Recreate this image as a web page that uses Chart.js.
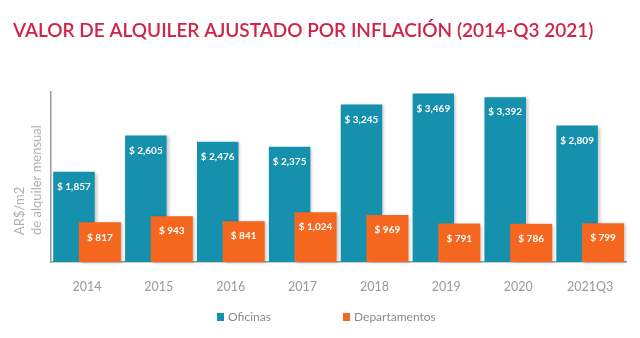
<!DOCTYPE html>
<html>
<head>
<meta charset="utf-8">
<script src="https://cdn.jsdelivr.net/npm/chart.js@4"></script>
<style>
  html, body { margin: 0; background: #fff; }
  #wrap { width: 640px; height: 338px; }
</style>
</head>
<body>
<div id="wrap"><canvas id="chart"></canvas></div>
<script>
const years = ['2014', '2015', '2016', '2017', '2018', '2019', '2020', '2021Q3']
const oficinas = [1857, 2605, 2476, 2375, 3245, 3469, 3392, 2809]
const departamentos = [817, 943, 841, 1024, 969, 791, 786, 799]

const TEAL = '#1590ad'
const ORANGE = '#f5671f'
const FONT = 'Lato'

function withShadow (ctx, fn) {
  ctx.save()
  ctx.shadowColor = 'rgba(0,0,0,0.22)'
  ctx.shadowBlur = 3
  ctx.shadowOffsetX = 2
  ctx.shadowOffsetY = 1
  fn()
  ctx.restore()
}

// bars overlap: orange sits in front of teal, so it is painted last by hand.
// title, axis caption, bar values and legend are painted here too
const extras = {
  id: 'extras',
  beforeDatasetDraw (chart, args) {
    if (args.index === 1) return false
    chart.ctx.save()
    chart.ctx.shadowColor = 'rgba(0,0,0,0.22)'
    chart.ctx.shadowBlur = 3
    chart.ctx.shadowOffsetX = 2
    chart.ctx.shadowOffsetY = 1
  },
  afterDatasetDraw (chart, args) {
    if (args.index === 1) return
    chart.ctx.restore()
  },
  afterDatasetsDraw (chart) {
    const ctx = chart.ctx
    withShadow(ctx, () => chart.getDatasetMeta(1).controller.draw())

    ctx.save()
    ctx.fillStyle = '#fff'
    ctx.font = 'bold 10px ' + FONT
    ctx.textAlign = 'center'
    ctx.textBaseline = 'middle'
    chart.data.datasets.forEach((ds, i) => {
      chart.getDatasetMeta(i).data.forEach((bar, j) => {
        ctx.fillText('$ ' + ds.data[j].toLocaleString('en-US'), bar.x, bar.y + 15)
      })
    })
    ctx.restore()
  },
  afterDraw (chart) {
    const ctx = chart.ctx
    ctx.save()
    // title
    ctx.fillStyle = '#d0234c'
    ctx.font = '600 19px ' + FONT
    ctx.textBaseline = 'middle'
    ctx.textAlign = 'left'
    ctx.fillText('VALOR DE ALQUILER AJUSTADO POR INFLACIÓN (2014-Q3 2021)', 13, 31)

    // y axis caption
    ctx.save()
    ctx.translate(0, 235)
    ctx.rotate(-Math.PI / 2)
    ctx.fillStyle = '#b0b0b0'
    ctx.font = '13px ' + FONT
    ctx.fillText('AR$/m2', 0, 20)
    ctx.fillText('de alquiler mensual', 0, 37)
    ctx.restore()

    // legend
    ctx.font = '12px ' + FONT
    const spots = [217, 343]
    chart.data.datasets.forEach((ds, i) => {
      const x = spots[i]
      ctx.fillStyle = ds.backgroundColor
      ctx.fillRect(x, 313, 7, 8)
      ctx.fillStyle = '#8a8a8a'
      ctx.fillText(ds.label, x + 11, 317)
    })
    ctx.restore()
  }
}

new Chart(document.getElementById('chart'), {
  type: 'bar',
  data: {
    labels: years,
    datasets: [
      {
        label: 'Oficinas',
        data: oficinas,
        backgroundColor: TEAL,
        categoryPercentage: 0.722,
        barPercentage: 1.6
      },
      {
        label: 'Departamentos',
        data: departamentos,
        backgroundColor: ORANGE,
        categoryPercentage: 0.722,
        barPercentage: 1.62
      }
    ]
  },
  options: {
    responsive: true,
    maintainAspectRatio: false,
    animation: false,
    layout: {
      padding: { top: 92, right: 14, left: 0, bottom: 0 }
    },
    scales: {
      x: {
        grid: { display: false },
        border: { color: '#9a9a9a', width: 1.5 },
        ticks: {
          color: '#999',
          padding: 9,
          font: { family: FONT, size: 12.5 }
        },
        afterFit (scale) { scale.height = 76 }
      },
      y: {
        min: 0,
        max: 3500,
        grid: { display: false },
        border: { color: '#9a9a9a', width: 1.5 },
        ticks: { display: false },
        afterFit (scale) { scale.width = 51 }
      }
    },
    plugins: {
      legend: { display: false },
      tooltip: { enabled: false },
      title: { display: false }
    }
  },
  plugins: [extras]
})
</script>
</body>
</html>
